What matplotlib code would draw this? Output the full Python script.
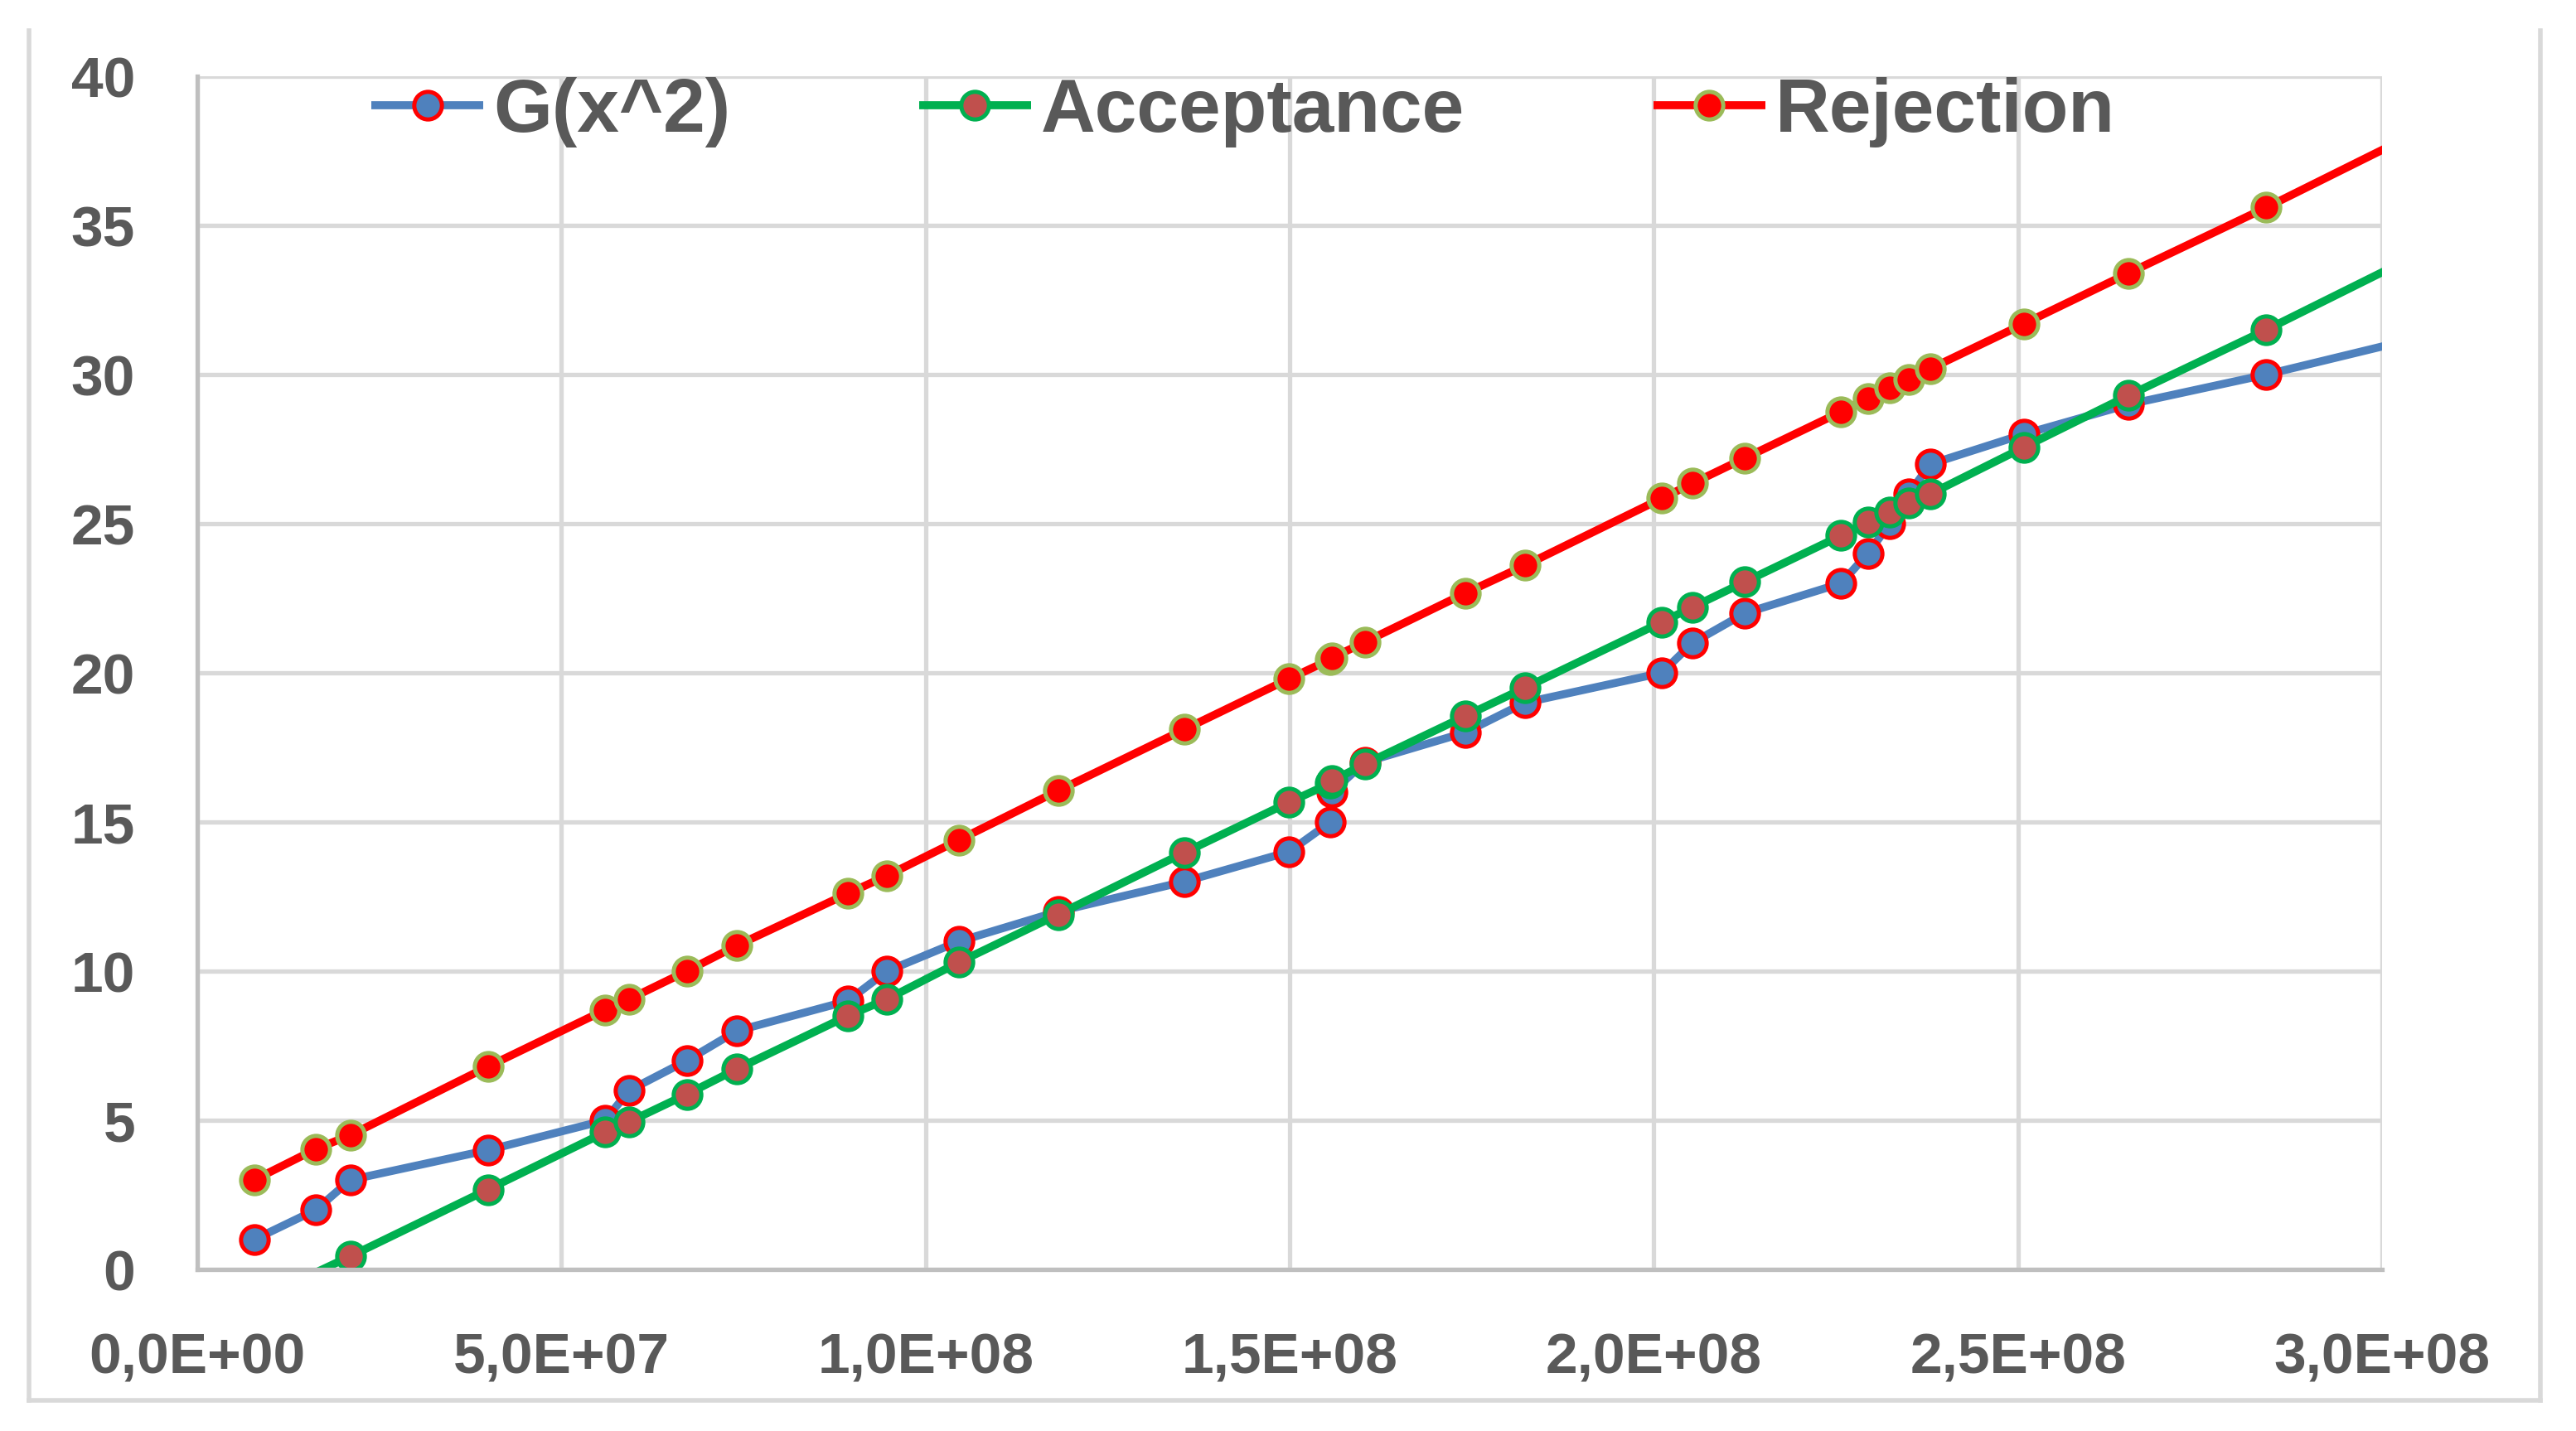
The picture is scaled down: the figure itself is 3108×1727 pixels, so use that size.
import matplotlib.pyplot as plt
from matplotlib.ticker import FuncFormatter, MultipleLocator
from matplotlib.lines import Line2D

plt.rcParams['font.family'] = ['Liberation Sans', 'DejaVu Sans']
plt.rcParams['font.weight'] = 'bold'

# data (last point lies just past the right edge)
x = [7.8e6, 1.63e7, 2.10e7, 3.99e7, 5.60e7, 5.93e7, 6.72e7, 7.41e7, 8.93e7, 9.47e7,
     1.046e8, 1.182e8, 1.355e8, 1.499e8, 1.556e8, 1.558e8, 1.603e8, 1.741e8, 1.823e8, 2.011e8,
     2.053e8, 2.125e8, 2.257e8, 2.294e8, 2.324e8, 2.350e8, 2.380e8, 2.508e8, 2.652e8, 2.841e8,
     3.01e8]
g_x2 = [1, 2, 3, 4, 5, 6, 7, 8, 9, 10,
        11, 12, 13, 14, 15, 16, 17, 18, 19, 20,
        21, 22, 23, 24, 25, 26, 27, 28, 29, 30,
        31]
acceptance = [-1.12, -0.1, 0.44, 2.68, 4.6, 4.95, 5.87, 6.72, 8.5, 9.06,
              10.3, 11.9, 13.97, 15.66, 16.3, 16.38, 16.94, 18.55, 19.5, 21.7,
              22.2, 23.05, 24.6, 25.06, 25.4, 25.7, 26.0, 27.56, 29.3, 31.5,
              33.55]
rejection = [3.0, 4.04, 4.5, 6.8, 8.7, 9.06, 10.0, 10.86, 12.6, 13.2,
             14.4, 16.05, 18.1, 19.8, 20.45, 20.5, 21.03, 22.67, 23.6, 25.85,
             26.35, 27.2, 28.75, 29.2, 29.55, 29.83, 30.2, 31.7, 33.4, 35.6,
             37.65]
labels = ["G(x^2)", "Acceptance", "Rejection"]

fig = plt.figure(figsize=(15.54, 8.635), dpi=200)
ax = fig.add_axes([0.0766, 0.1129, 0.8481, 0.8338])

n = len(x)
lw = 3.5
ms = 12
mew = 1.8

ax.plot(x, g_x2, color='#4F81BD', lw=lw, marker='o', ms=ms, mfc='#4F81BD',
        mec='#FF0000', mew=mew, markevery=list(range(0, n - 1)), label=labels[0],
        solid_capstyle='butt')
ax.plot(x, acceptance, color='#00B050', lw=lw, marker='o', ms=ms, mfc='#C0504D',
        mec='#00B050', mew=mew, markevery=list(range(2, n - 1)), label=labels[1],
        solid_capstyle='butt')
ax.plot(x, rejection, color='#FF0000', lw=lw, marker='o', ms=ms, mfc='#FF0000',
        mec='#9BBB59', mew=mew, markevery=list(range(0, n - 1)), label=labels[2],
        solid_capstyle='butt')

ax.set_xlim(0, 3e8)
ax.set_ylim(0, 40)
ax.xaxis.set_major_locator(MultipleLocator(5e7))
ax.yaxis.set_major_locator(MultipleLocator(5))
ax.xaxis.set_major_formatter(FuncFormatter(lambda v, p: f"{v:.1E}".replace('.', ',')))
ax.grid(True, color='#D9D9D9', lw=1.9)
ax.set_axisbelow(True)
ax.tick_params(length=0, labelsize=25, labelcolor='#595959', pad=27)
for s in ['top', 'right']:
    ax.spines[s].set_visible(False)
for s in ['left', 'bottom']:
    ax.spines[s].set_color('#BFBFBF')
    ax.spines[s].set_linewidth(1.9)

fig.legend(loc='center', bbox_to_anchor=(0.4826, 0.9215), ncol=3, frameon=False,
           fontsize=32.8, handlelength=1.48, handletextpad=0.13, columnspacing=2.5,
           borderpad=0, labelcolor='#595959')

# outer chart border
bc = '#D9D9D9'
fig.add_artist(Line2D([35 / 3108, 35 / 3108], [1 - 37 / 1727, 1 - 1690 / 1727], color=bc, lw=2))
fig.add_artist(Line2D([3065 / 3108, 3065 / 3108], [1 - 37 / 1727, 1 - 1690 / 1727], color=bc, lw=2))
fig.add_artist(Line2D([35 / 3108, 3065 / 3108], [1 - 1690 / 1727, 1 - 1690 / 1727], color=bc, lw=2))

fig.savefig("out.png", dpi=200)
